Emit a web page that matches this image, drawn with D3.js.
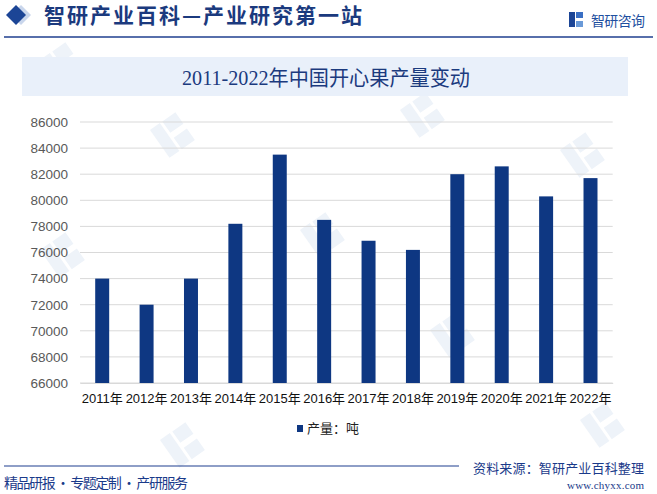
<!DOCTYPE html>
<html><head><meta charset="utf-8">
<script src="https://cdn.jsdelivr.net/npm/d3@7"></script>
<style>body{margin:0;background:#fff}svg{display:block}</style>
</head><body>
<script>
const categories = ["2011年","2012年","2013年","2014年","2015年","2016年","2017年","2018年","2019年","2020年","2021年","2022年"];
const production = [74000,72000,74000,78200,83500,78500,76900,76200,82000,82600,80300,81700];
const yTicks = [66000,68000,70000,72000,74000,76000,78000,80000,82000,84000,86000];
const seriesName = "产量：吨";
const chartTitle = "2011-2022年中国开心果产量变动";
const headerTitle = "智研产业百科—产业研究第一站";

const W = 657, H = 494;
const svg = d3.select("body").append("svg").attr("width", W).attr("height", H);
const navy = "#1b3a7e";
const barColor = "#0e3782";

// faint logo watermarks (shapes only)
const wm = svg.append("g").attr("fill", "#eef3f9");
[[40,250],[300,230],[560,150],[150,130],[400,110],[580,420],[160,440],[430,330],[40,60]].forEach(([x,y])=>{
  const g = wm.append("g").attr("transform",`translate(${x},${y}) rotate(-35)`);
  g.append("rect").attr("x",0).attr("y",0).attr("width",12).attr("height",34);
  g.append("rect").attr("x",15).attr("y",0).attr("width",16).attr("height",14);
  g.append("rect").attr("x",15).attr("y",20).attr("width",16).attr("height",14);
});

// header
svg.append("path").attr("d","M 21 5 L 31 15 L 21 25 L 11 15 Z").attr("fill","#c9d6ec");
svg.append("path").attr("d","M 16 5 L 26 15 L 16 25 L 6 15 Z").attr("fill","#1c4596");
svg.append("text").attr("x",44).attr("y",23)
  .attr("font-family","Noto Sans CJK SC").attr("font-weight",700).attr("font-size",21)
  .attr("fill",navy).attr("textLength",318).attr("lengthAdjust","spacing").text(headerTitle);
svg.append("line").attr("x1",4).attr("x2",653).attr("y1",37).attr("y2",37)
  .attr("stroke","#1f3f8f").attr("stroke-width",1.5);
// logo
const lg = svg.append("g").attr("transform","translate(569,12)");
lg.append("rect").attr("x",0).attr("y",0).attr("width",6).attr("height",15).attr("fill","#1c4596");
lg.append("rect").attr("x",7).attr("y",0).attr("width",7).attr("height",6).attr("fill","#3a6fc4");
lg.append("rect").attr("x",7).attr("y",9).attr("width",7).attr("height",6).attr("fill","#6a9ad8");
svg.append("text").attr("x",591).attr("y",26).attr("font-family","Noto Sans CJK SC")
  .attr("font-size",14).attr("fill","#1e4fa0").attr("textLength",54).text("智研咨询");

// title band
svg.append("rect").attr("x",22).attr("y",57).attr("width",606).attr("height",39).attr("fill","#e9f0fa");
svg.append("text").attr("x",182).attr("y",85)
  .attr("font-family","Liberation Serif, Noto Sans CJK SC").attr("font-size",21)
  .attr("fill",navy).attr("textLength",288).attr("lengthAdjust","spacingAndGlyphs").text(chartTitle);

// scales
const x = d3.scaleBand().domain(categories).range([80,612.7]).paddingInner(0.685).paddingOuter(0.3425);
const y = d3.scaleLinear().domain([66000,86000]).range([383,122]);

// grid
svg.append("g").selectAll("line").data(yTicks).join("line")
  .attr("x1",80).attr("x2",612.7).attr("y1",d=>y(d)).attr("y2",d=>y(d))
  .attr("stroke","#d9d9d9").attr("stroke-width",1);

// y axis
const yAxis = svg.append("g").attr("transform","translate(80,0)")
  .call(d3.axisLeft(y).tickValues(yTicks).tickSize(0).tickPadding(12).tickFormat(d3.format("d")));
yAxis.select(".domain").remove();
yAxis.selectAll("text").attr("font-family","Liberation Sans, Arial").attr("font-size",13.5).attr("fill","#595959");

// bars
svg.append("g").selectAll("rect").data(production).join("rect")
  .attr("x",(d,i)=>x(categories[i])).attr("width",x.bandwidth())
  .attr("y",d=>y(d)).attr("height",d=>y(66000)-y(d)).attr("fill",barColor);

// x axis
const xAxis = svg.append("g").attr("transform","translate(0,383)")
  .call(d3.axisBottom(x).tickSize(0).tickPadding(11));
xAxis.select(".domain").attr("stroke","#d9d9d9");
xAxis.selectAll("text").attr("font-family","Liberation Sans, Noto Sans CJK SC").attr("font-size",13).attr("fill","#111");

// legend
svg.append("rect").attr("x",297).attr("y",425).attr("width",6).attr("height",7).attr("fill",barColor);
svg.append("text").attr("x",307).attr("y",433).attr("font-family","Noto Sans CJK SC")
  .attr("font-size",13).attr("fill","#222").text(seriesName);

// footer
svg.append("line").attr("x1",4).attr("x2",459).attr("y1",466).attr("y2",466)
  .attr("stroke","#1f3f8f").attr("stroke-width",1.2);
svg.append("text").attr("x",4).attr("y",488).attr("font-family","Noto Sans CJK SC")
  .attr("font-size",14).attr("fill","#1a3a8a").attr("textLength",184).text("精品研报 · 专题定制 · 产研服务");
svg.append("text").attr("x",473).attr("y",473).attr("font-family","Noto Sans CJK SC")
  .attr("font-size",13).attr("fill","#1a3a8a").attr("textLength",171).text("资料来源：智研产业百科整理");
svg.append("text").attr("x",644).attr("y",489).attr("text-anchor","end").attr("font-family","Liberation Serif")
  .attr("font-size",11).attr("fill","#1a3a8a").attr("textLength",77).text("www.chyxx.com");
</script>
</body></html>
